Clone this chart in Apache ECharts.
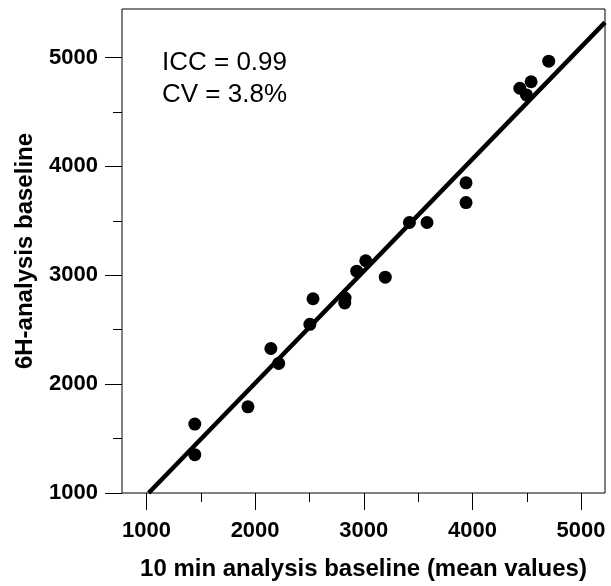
<!DOCTYPE html>
<html>
<head>
<meta charset="utf-8">
<script src="https://cdn.jsdelivr.net/npm/echarts@6/dist/echarts.min.js"></script>
<style>
  html, body { margin: 0; padding: 0; background: #fff; }
  #chart { width: 611px; height: 586px; }
</style>
</head>
<body>
<div id="chart"></div>
<script>
// points: [10 min baseline, 6H baseline]
const points = [
  [1445, 1633], [1445, 1352], [1934, 1791], [2145, 2327], [2217, 2190],
  [2504, 2549], [2533, 2784], [2828, 2790], [2825, 2745], [2935, 3037],
  [3018, 3133], [3198, 2982], [3420, 3484], [3582, 3484], [3941, 3849],
  [3941, 3667], [4436, 4717], [4497, 4656], [4540, 4777], [4702, 4966],
];
// regression line end points
const fitLine = [[1020, 1000], [5220, 5322]];

const xTicks = [1000, 2000, 3000, 4000, 5000];
const xMinor = [1500, 2500, 3500, 4500];
const yTicks = [1000, 2000, 3000, 4000, 5000];
const yMinor = [1500, 2500, 3500, 4500];

const font = 'Liberation Sans, Arial, sans-serif';
const plain = (v) => String(v);

const chart = echarts.init(document.getElementById('chart'));
chart.setOption({
  animation: false,
  grid: {
    left: 122, right: 6, top: 9, bottom: 91,
    show: true, borderColor: '#000', borderWidth: 1,
  },
  xAxis: [
    {
      type: 'value', min: 775, max: 5220,
      name: '10 min analysis baseline (mean values)',
      nameLocation: 'middle', nameGap: 64,
      nameTextStyle: { fontFamily: font, fontWeight: 'bold', fontSize: 24, color: '#000' },
      axisLine: { show: false },
      splitLine: { show: false },
      axisTick: { show: true, length: 17, customValues: xTicks, lineStyle: { color: '#000', width: 1 } },
      axisLabel: { customValues: xTicks, formatter: plain, margin: 27, fontFamily: font, fontWeight: 'bold', fontSize: 22, color: '#000' },
    },
    {
      type: 'value', min: 775, max: 5220, position: 'bottom',
      axisLine: { show: false },
      splitLine: { show: false },
      axisTick: { show: true, length: 9, customValues: xMinor, lineStyle: { color: '#000', width: 1 } },
      axisLabel: { show: false },
    },
  ],
  yAxis: [
    {
      type: 'value', min: 1000, max: 5445,
      name: '6H-analysis baseline',
      nameLocation: 'middle', nameGap: 85,
      nameTextStyle: { fontFamily: font, fontWeight: 'bold', fontSize: 24, color: '#000' },
      axisLine: { show: false },
      splitLine: { show: false },
      axisTick: { show: true, length: 17, customValues: yTicks, lineStyle: { color: '#000', width: 1 } },
      axisLabel: { customValues: yTicks, formatter: plain, margin: 24, fontFamily: font, fontWeight: 'bold', fontSize: 22, color: '#000' },
    },
    {
      type: 'value', min: 1000, max: 5445, position: 'left',
      axisLine: { show: false },
      splitLine: { show: false },
      axisTick: { show: true, length: 9, customValues: yMinor, lineStyle: { color: '#000', width: 1 } },
      axisLabel: { show: false },
    },
  ],
  graphic: [
    {
      type: 'text', left: 162, top: 47,
      style: {
        text: 'ICC = 0.99\nCV = 3.8%',
        font: '26px ' + font, fill: '#000', lineHeight: 32,
      },
    },
  ],
  series: [
    {
      type: 'line',
      data: fitLine,
      symbol: 'none',
      lineStyle: { color: '#000', width: 4.5 },
      z: 2,
    },
    {
      type: 'scatter',
      data: points,
      symbolSize: 13,
      itemStyle: { color: '#000', opacity: 1 },
      z: 3,
    },
  ],
});
</script>
</body>
</html>
